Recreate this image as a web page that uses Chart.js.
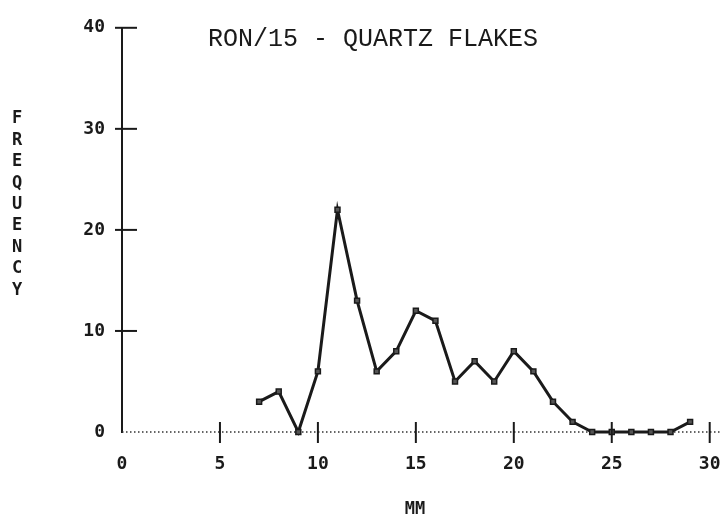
<!DOCTYPE html>
<html>
<head>
<meta charset="utf-8">
<script src="https://cdn.jsdelivr.net/npm/chart.js@4"></script>
<style>
  html, body { margin: 0; padding: 0; background: #fff; }
  #wrap { width: 725px; height: 525px; }
</style>
</head>
<body>
<div id="wrap"><canvas id="freqChart" width="725" height="525"></canvas></div>
<script>
const sizesMm = [7, 8, 9, 10, 11, 12, 13, 14, 15, 16, 17, 18, 19, 20, 21, 22, 23, 24, 25, 26, 27, 28, 29];
const frequency = [3, 4, 0, 6, 22, 13, 6, 8, 12, 11, 5, 7, 5, 8, 6, 3, 1, 0, 0, 0, 0, 0, 1];
const xTickValues = [0, 5, 10, 15, 20, 25, 30];
const yTickValues = [0, 10, 20, 30, 40];
const chartTitle = "RON/15 - QUARTZ FLAKES";
const xTitle = "MM";
const yTitle = "FREQUENCY";

const ink = "#1a1a1a";
const tickFont = { family: "DejaVu Sans Mono", size: 18, weight: "bold" };

// dotted x axis drawn under the line
const dottedAxis = {
    id: "dottedAxis",
    beforeDatasetsDraw(chart) {
        const ctx = chart.ctx;
        const area = chart.chartArea;
        ctx.save();
        ctx.strokeStyle = "#333";
        ctx.lineWidth = 1.5;
        ctx.setLineDash([1.5, 2.5]);
        ctx.beginPath();
        ctx.moveTo(area.left, area.bottom);
        ctx.lineTo(area.right, area.bottom);
        ctx.stroke();
        ctx.restore();
    },
};

// crosses on the axes, the stacked y title, the chart title and MM
const plotterLook = {
    id: "plotterLook",
    afterDraw(chart) {
        const ctx = chart.ctx;
        const x = chart.scales.x;
        const y = chart.scales.y;
        const area = chart.chartArea;
        ctx.save();
        ctx.strokeStyle = ink;
        ctx.lineWidth = 2;
        yTickValues.forEach(v => {
            if (v === 0) return;
            const py = y.getPixelForValue(v);
            ctx.beginPath();
            ctx.moveTo(area.left - 7, py);
            ctx.lineTo(area.left + 15, py);
            ctx.stroke();
        });
        xTickValues.forEach(v => {
            if (v === 0) return;
            const px = x.getPixelForValue(v);
            ctx.beginPath();
            ctx.moveTo(px, area.bottom - 10);
            ctx.lineTo(px, area.bottom + 11);
            ctx.stroke();
        });

        ctx.fillStyle = ink;
        ctx.textAlign = "center";
        ctx.textBaseline = "middle";
        ctx.font = "25px 'Liberation Mono'";
        ctx.fillText(chartTitle, 373, 39);

        ctx.font = "bold 17px 'DejaVu Sans Mono'";
        ctx.fillText(xTitle, 415, 510);
        yTitle.split("").forEach((ch, i) => {
            ctx.fillText(ch, 17, 119 + i * 21.4);
        });
        ctx.restore();
    },
};

const ctx = document.getElementById("freqChart").getContext("2d");
new Chart(ctx, {
    type: "line",
    data: {
        datasets: [
            {
                data: sizesMm.map((s, i) => ({ x: s, y: frequency[i] })),
                borderColor: ink,
                borderWidth: 3,
                pointStyle: "rect",
                pointRadius: 3.5,
                pointBackgroundColor: "#555",
                pointBorderColor: ink,
                pointBorderWidth: 1.5,
                tension: 0,
                clip: false,
            },
        ],
    },
    options: {
        responsive: false,
        animation: false,
        layout: { padding: { top: 20, right: 5, left: 0, bottom: 0 } },
        plugins: {
            legend: { display: false },
            tooltip: { enabled: false },
        },
        scales: {
            x: {
                type: "linear",
                min: 0,
                max: 30.5,
                afterBuildTicks: s => { s.ticks = xTickValues.map(v => ({ value: v })); },
                afterFit: s => { s.height = 93; s.paddingLeft = 0; s.paddingRight = 0; },
                grid: { display: false, drawTicks: false },
                border: { display: false },
                ticks: { color: ink, font: tickFont, padding: 22, maxRotation: 0 },
            },
            y: {
                min: 0,
                max: 40,
                afterBuildTicks: s => { s.ticks = yTickValues.map(v => ({ value: v })); },
                afterFit: s => { s.width = 122; },
                grid: { display: false, drawTicks: false },
                border: { display: true, color: ink, width: 2 },
                ticks: { color: ink, font: tickFont, padding: 17 },
            },
        },
    },
    plugins: [dottedAxis, plotterLook],
});
</script>
</body>
</html>
